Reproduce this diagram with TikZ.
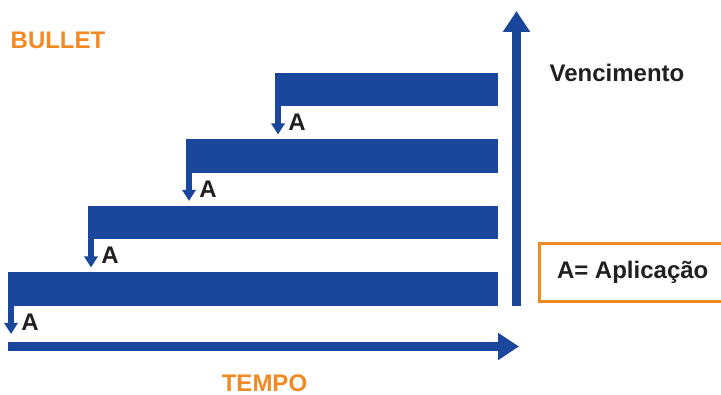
\documentclass[tikz,border=0pt]{standalone}
\usepackage{fontspec}
\setmainfont{Liberation Sans}
\usetikzlibrary{arrows.meta,positioning}
\definecolor{bulletblue}{RGB}{26,71,155}
\definecolor{bulletorange}{RGB}{242,138,36}
\definecolor{labelgray}{RGB}{35,31,32}

\begin{document}
\begin{tikzpicture}[x=1pt,y=-1pt,every node/.style={outer sep=0pt,inner sep=0pt,font=\bfseries\fontsize{24}{24}\selectfont}]
\tikzstyle{bar}=[fill=bulletblue,draw=none,anchor=north west,minimum height=33.5pt]
\tikzstyle{apl}=[bulletblue,line width=6pt,-{Triangle[width=13pt,length=11pt]}]
\tikzstyle{axis}=[bulletblue,line width=9pt,-{Triangle[width=26pt,length=21pt]}]
\tikzstyle{tag}=[text=labelgray]
\clip (0,0) rectangle (721,395);
% barras
\node (b1) [bar,minimum width=223pt] at (275,73) {};
\node (b2) [bar,minimum width=312pt] at (186,139.5) {};
\node (b3) [bar,minimum width=410pt] at (88,206) {};
\node (b4) [bar,minimum width=490pt] at (8,272.5) {};
% aplicacoes
\draw [apl] ([xshift=3pt,yshift=1pt]b1.south west) -- ++(0,29);
\draw [apl] ([xshift=3pt,yshift=1pt]b2.south west) -- ++(0,29);
\draw [apl] ([xshift=3pt,yshift=1pt]b3.south west) -- ++(0,29);
\draw [apl] ([xshift=3pt,yshift=1pt]b4.south west) -- ++(0,29);
\node (a1) [tag] at ([shift={(22,16)}]b1.south west) {A};
\node (a2) [tag] at ([shift={(22,16)}]b2.south west) {A};
\node (a3) [tag] at ([shift={(22,16)}]b3.south west) {A};
\node (a4) [tag] at ([shift={(22,16)}]b4.south west) {A};
% eixos
\coordinate (origem) at (8,346.5);
\coordinate (tfim) at (519,346.5);
\coordinate (vbase) at (516.5,306);
\coordinate (vtopo) at (516.5,11);
\draw [axis] (origem) -- (tfim);
\draw [axis] (vbase) -- (vtopo);
% textos
\node (bullet) [text=bulletorange] at (58,40) {BULLET};
\node (tempo) [text=bulletorange] at (264.5,383) {TEMPO};
\node (venc) [tag] at (617,73) {Vencimento};
\node (legenda) [tag,draw=bulletorange,line width=3pt,anchor=west,inner xsep=17.5pt,minimum height=58pt] at (539.5,272.5) {A= Aplicação};
\end{tikzpicture}
\end{document}
